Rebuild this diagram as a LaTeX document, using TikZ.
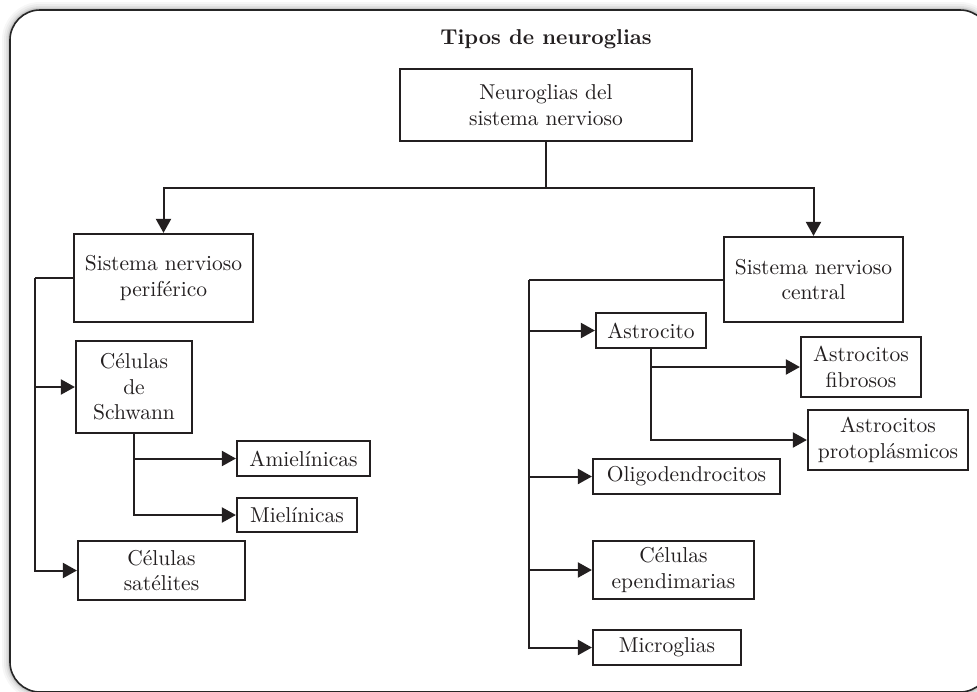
\documentclass[tikz,border=0pt]{standalone}
\usepackage{fontspec}
\setmainfont{lmroman10-regular.otf}[BoldFont=lmroman10-bold.otf]
\usetikzlibrary{arrows.meta}
\definecolor{ink}{HTML}{231F20}
\tikzset{
  box/.style={draw=ink, line width=2.2pt, align=center, inner sep=0pt, text=ink,
    font=\fontsize{21.5}{25.5}\selectfont},
  conn/.style={draw=ink, line width=2pt},
  arr/.style={conn, -{Triangle[length=14pt,width=15pt]}},
}
\begin{document}
\begin{tikzpicture}[x=1pt,y=-1pt]
\useasboundingbox (0,0) rectangle (977,691);
% frame with soft shadow
\foreach \w/\o in {16/0.03, 12/0.04, 8/0.05, 5/0.07, 3/0.08}{
  \draw[line width=\w pt, black, opacity=\o, rounded corners=30pt] (10,10) rectangle (990,692);
}
\fill[white, rounded corners=30pt] (10,10) rectangle (990,692);
\draw[line width=1.6pt, black!85, rounded corners=30pt] (10,10) rectangle (990,692);

% title
\node[text=ink, font=\fontsize{21.5}{25}\selectfont\bfseries] (title) at (546,39) {Tipos de neuroglias};

% boxes
\node[box, minimum width=292pt, minimum height=72pt] (top) at (546,105) {Neuroglias del\\sistema nervioso};
\node[box, minimum width=179pt, minimum height=88pt] (pns) at (163.5,278) {Sistema nervioso\\periférico};
\node[box, minimum width=179pt, minimum height=85pt] (cns) at (813.5,279.5) {Sistema nervioso\\central};
\node[box, minimum width=116pt, minimum height=92pt] (schwann) at (134,387) {Células\\de\\Schwann};
\node[box, minimum width=133pt, minimum height=35pt] (amiel) at (303.5,458.5) {Amielínicas};
\node[box, minimum width=120pt, minimum height=34pt] (miel) at (297,515) {Mielínicas};
\node[box, minimum width=167pt, minimum height=59pt] (satel) at (161.5,570.5) {Células\\satélites};
\node[box, minimum width=110pt, minimum height=35pt] (astro) at (651,330.5) {Astrocito};
\node[box, minimum width=120pt, minimum height=60pt] (fibro) at (861,367) {Astrocitos\\fibrosos};
\node[box, minimum width=160pt, minimum height=60pt] (proto) at (888,440) {Astrocitos\\protoplásmicos};
\node[box, minimum width=187pt, minimum height=35pt] (oligo) at (686.5,476.5) {Oligodendrocitos};
\node[box, minimum width=161pt, minimum height=58pt] (epend) at (673.5,570) {Células\\ependimarias};
\node[box, minimum width=148pt, minimum height=35pt] (micro) at (667,647.5) {Microglias};

% connectors
\coordinate (split) at (546,188);
\draw[conn] (top.south) -- (split);
\draw[arr] (split) -| (pns.north);
\draw[arr] (split) -| (cns.north);

\coordinate (lt) at (35,278);
\draw[conn] (pns.west) -- (lt);
\draw[arr] (lt) |- (schwann.west);
\draw[arr] (lt) |- (satel.west);

\draw[arr] (schwann.south) |- (amiel.west);
\draw[arr] (schwann.south) |- (miel.west);

\coordinate (rt) at (529,279.5);
\draw[conn] (cns.west) -- (rt);
\draw[arr] (rt) |- (astro.west);
\draw[arr] (rt) |- (oligo.west);
\draw[arr] (rt) |- (epend.west);
\draw[arr] (rt) |- (micro.west);

\draw[arr] (astro.south) |- (fibro.west);
\draw[arr] (astro.south) |- (proto.west);
\end{tikzpicture}
\end{document}
